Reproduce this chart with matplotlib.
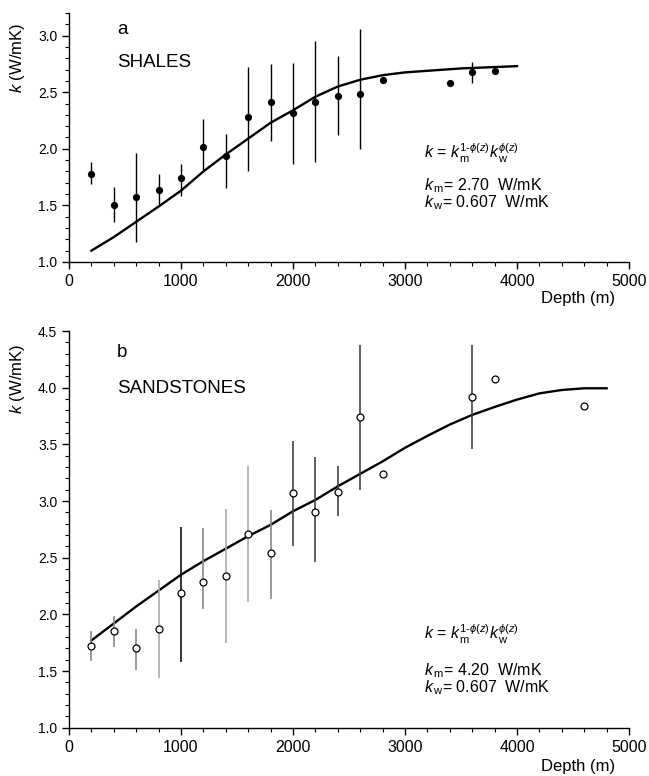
import matplotlib
matplotlib.use("Agg")
import matplotlib.pyplot as plt
import numpy as np
from matplotlib.ticker import MultipleLocator

plt.rcParams['font.family'] = ['Liberation Sans', 'DejaVu Sans']
plt.rcParams['mathtext.fontset'] = 'custom'
plt.rcParams['mathtext.rm'] = 'Liberation Sans'
plt.rcParams['mathtext.it'] = 'Liberation Sans:italic'
plt.rcParams['mathtext.sf'] = 'Liberation Sans'

# --- shales (panel a) ---
shale_depth = [200, 400, 600, 800, 1000, 1200, 1400, 1600, 1800, 2000, 2200, 2400, 2600,
               2800, 3400, 3600, 3800]
shale_k = [1.78, 1.50, 1.57, 1.64, 1.74, 2.02, 1.94, 2.28, 2.41, 2.32, 2.41, 2.47, 2.48,
           2.61, 2.58, 2.68, 2.69]
shale_lo = [1.69, 1.35, 1.18, 1.50, 1.58, 1.81, 1.65, 1.80, 2.07, 1.87, 1.88, 2.12, 2.00,
            np.nan, np.nan, 2.58, np.nan]
shale_hi = [1.88, 1.66, 1.96, 1.78, 1.87, 2.26, 2.13, 2.72, 2.75, 2.76, 2.95, 2.82, 3.06,
            np.nan, np.nan, 2.77, np.nan]
shale_fit_depth = [200, 400, 600, 800, 1000, 1200, 1400, 1600, 1800, 2000, 2200, 2400,
                   2600, 2800, 3000, 3500, 4000]
shale_fit_k = [1.10, 1.22, 1.355, 1.49, 1.63, 1.80, 1.95, 2.09, 2.23, 2.34, 2.46, 2.55,
               2.61, 2.65, 2.675, 2.71, 2.73]

# --- sandstones (panel b) ---
sand_depth = [200, 400, 600, 800, 1000, 1200, 1400, 1600, 1800, 2000, 2200, 2400, 2600,
              2800, 3600, 3800, 4600]
sand_k = [1.72, 1.85, 1.70, 1.87, 2.19, 2.29, 2.34, 2.71, 2.54, 3.07, 2.90, 3.08, 3.74,
          3.24, 3.92, 4.08, 3.84]
sand_lo = [1.59, 1.71, 1.51, 1.44, 1.58, 2.05, 1.75, 2.11, 2.14, 2.60, 2.46, 2.87, 3.10,
           np.nan, 3.46, np.nan, np.nan]
sand_hi = [1.85, 1.99, 1.87, 2.30, 2.77, 2.76, 2.93, 3.31, 2.92, 3.53, 3.39, 3.31, 4.38,
           np.nan, 4.38, np.nan, np.nan]
sand_fit_depth = [200, 400, 600, 800, 1000, 1200, 1400, 1600, 1800, 2000, 2200, 2400,
                  2600, 2800, 3000, 3200, 3400, 3600, 3800, 4000, 4200, 4400, 4600, 4800]
sand_fit_k = [1.77, 1.92, 2.07, 2.21, 2.35, 2.47, 2.58, 2.69, 2.79, 2.91, 3.01, 3.13,
              3.24, 3.35, 3.47, 3.575, 3.675, 3.76, 3.83, 3.895, 3.95, 3.98, 3.995, 3.995]

# shade of each sandstone error bar, as printed
sand_bar_shade = ['#888888', '#888888', '#888888', '#aaaaaa', '#111111', '#888888',
                  '#aaaaaa', '#aaaaaa', '#888888', '#444444', '#444444', '#444444',
                  '#444444', 'none', '#444444', 'none', 'none']

fig = plt.figure(figsize=(6.49, 7.76), dpi=100)
ax1 = fig.add_axes([0.1063, 0.6624, 0.8629, 0.3209])
ax2 = fig.add_axes([0.1063, 0.0622, 0.8629, 0.5112])


def style_axes(ax, ymin, ymax):
    ax.set_xlim(0, 5000)
    ax.set_ylim(ymin, ymax)
    for s in ('top', 'right'):
        ax.spines[s].set_visible(False)
    for s in ('left', 'bottom'):
        ax.spines[s].set_linewidth(1.0)
    ax.xaxis.set_major_locator(MultipleLocator(1000))
    ax.xaxis.set_minor_locator(MultipleLocator(200))
    ax.yaxis.set_major_locator(MultipleLocator(0.5))
    ax.yaxis.set_minor_locator(MultipleLocator(0.1))
    ax.yaxis.set_major_formatter(matplotlib.ticker.FormatStrFormatter('%.1f'))
    ax.tick_params(which='major', direction='out', length=5, width=1.0)
    ax.tick_params(which='minor', direction='out', length=3, width=0.8)
    ax.tick_params(axis='x', labelsize=11.5, pad=4)
    ax.tick_params(axis='y', labelsize=10)
    ax.set_ylabel(r'$k$ (W/mK)', fontsize=12)


def add_notes(ax, letter, rock, km, y_eq, y_km, y_kw, y_depth):
    ax.text(0.0857, y_eq[0], letter, transform=ax.transAxes, fontsize=13.5, va='center')
    ax.text(0.0857, y_eq[1], rock, transform=ax.transAxes, fontsize=13.5, va='center')
    ax.text(0.634, y_eq[2], r'$k$ = $k_{\,\rm m}^{1\text{-}\phi(z)}k_{\,\rm w}^{\phi(z)}$',
            transform=ax.transAxes, fontsize=11.5, va='center')
    ax.text(0.634, y_km, r'$k_{\,\rm m}$= ' + km + '  W/mK', transform=ax.transAxes,
            fontsize=11.5, va='center')
    ax.text(0.634, y_kw, r'$k_{\,\rm w}$= 0.607  W/mK', transform=ax.transAxes,
            fontsize=11.5, va='center')
    ax.text(0.975, y_depth, 'Depth (m)', transform=ax.transAxes, fontsize=12,
            ha='right', va='center')


style_axes(ax1, 1.0, 3.2)
ax1.yaxis.set_label_coords(-0.075, 0.82)
ax1.plot(shale_fit_depth, shale_fit_k, color='black', lw=1.7, zorder=2)
ax1.vlines(shale_depth, shale_lo, shale_hi, color='black', lw=1.0, zorder=3)
ax1.plot(shale_depth, shale_k, 'o', color='black', ms=4.2, zorder=4)
add_notes(ax1, 'a', 'SHALES', '2.70', (0.932, 0.803, 0.438), 0.305, 0.237, -0.145)

style_axes(ax2, 1.0, 4.5)
ax2.yaxis.set_label_coords(-0.075, 0.88)
ax2.plot(sand_fit_depth, sand_fit_k, color='black', lw=1.7, zorder=2)
for d, lo, hi, c in zip(sand_depth, sand_lo, sand_hi, sand_bar_shade):
    if c != 'none':
        ax2.vlines(d, lo, hi, color=c, lw=1.2, zorder=3)
ax2.plot(sand_depth, sand_k, 'o', mfc='white', mec='black', mew=0.9, ms=5, zorder=4)
add_notes(ax2, 'b', 'SANDSTONES', '4.20', (0.945, 0.854, 0.236), 0.143, 0.100, -0.098)

fig.savefig('out.png', dpi=100)
